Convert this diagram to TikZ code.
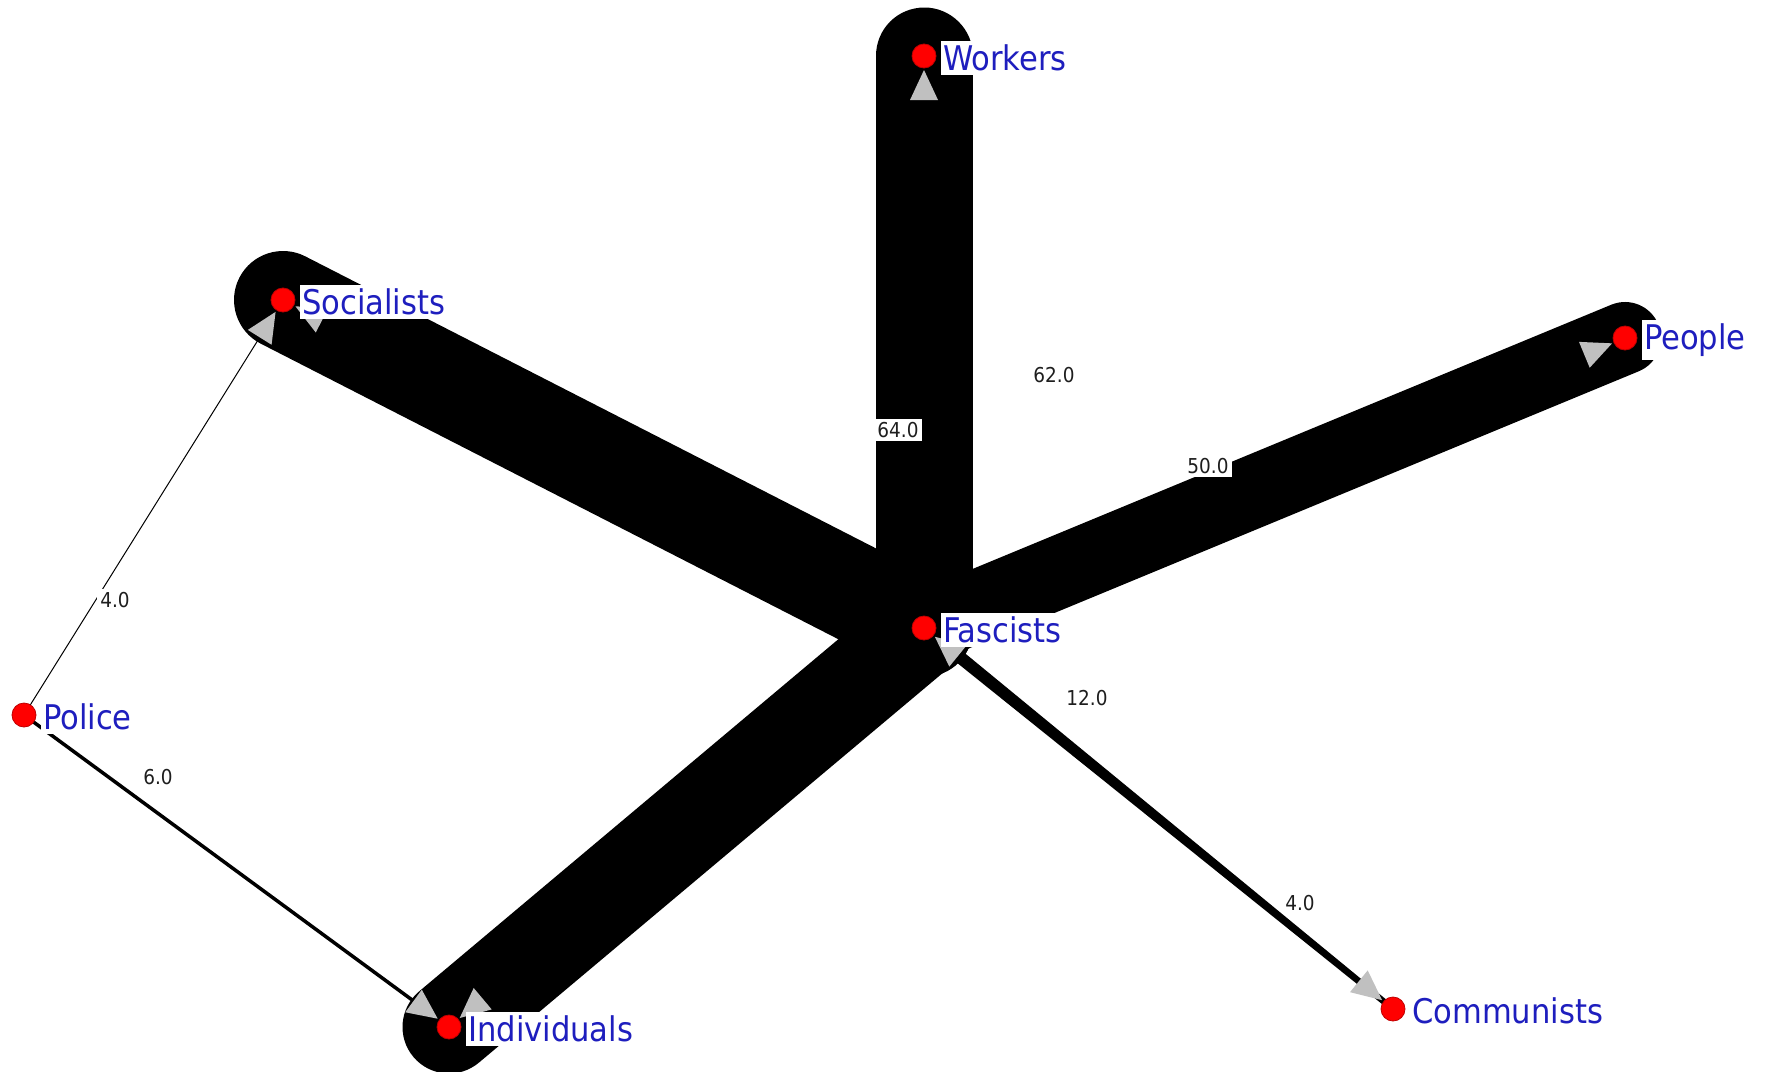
\documentclass[tikz,border=0pt]{standalone}
\usepackage{fontspec}
\setmainfont{DejaVu Sans Condensed}
\usetikzlibrary{calc}
\definecolor{nodeblue}{RGB}{30,30,190}
\definecolor{arrowgray}{RGB}{192,192,192}
\definecolor{numgray}{RGB}{30,30,30}
\pgfdeclarelayer{edges}
\pgfdeclarelayer{heads}
\pgfsetlayers{edges,heads,main}
\newcommand\nmfont{\fontsize{34}{37}\selectfont}
\newcommand\nbfont{\fontsize{20.5}{22}\selectfont}
\newcommand\grayhead[2]{%
  \coordinate (gtip) at ($(#2.center)!14pt!(#1.center)$);
  \coordinate (gbase) at ($(#2.center)!44pt!(#1.center)$);
  \fill[arrowgray] (gtip) -- ($(gbase)!14pt!90:(gtip)$) -- ($(gbase)!14pt!-90:(gtip)$) -- cycle;}
\tikzset{
  band/.style={line width=#1pt, line cap=round, draw=black},
  vert/.style={circle, fill=red, draw=red!75!black, line width=0.8pt, minimum size=24pt, inner sep=0pt},
  vname/.style={anchor=west, fill=white, text=nodeblue, inner xsep=2pt, inner ysep=4pt, font=\nmfont, xshift=17pt, yshift=-2pt},
  wlab/.style={font=\nbfont, fill=white, inner xsep=3pt, inner ysep=3pt, text=numgray},
}
\begin{document}
\begin{tikzpicture}[x=1pt,y=-1pt]
\useasboundingbox (0,0) rectangle (1766,1071);
\node[vert] (W) at (924,56) {};
\node[vert] (S) at (283,300) {};
\node[vert] (Pe) at (1625,338) {};
\node[vert] (F) at (924,628) {};
\node[vert] (Po) at (24,715) {};
\node[vert] (I) at (449,1027) {};
\node[vert] (C) at (1393,1009) {};
\begin{pgfonlayer}{edges}
\fill[white] (0,0) rectangle (1766,1071);
\draw[line width=1pt] (Po.center) -- (S.center);
\draw[line width=3.5pt] (Po.center) -- (I.center);
\draw[band=98] (F.center) -- (S.center);
\draw[band=93] (F.center) -- (I.center);
\draw[band=97] (F.center) -- (W.center);
\draw[band=72] (F.center) -- (Pe.center);
\fill[black] ($(F.center)!6.5pt!90:(C.center)$) -- ($(F.center)!6.5pt!-90:(C.center)$) -- ($(C.center)!3pt!90:(F.center)$) -- ($(C.center)!3pt!-90:(F.center)$) -- cycle;
\end{pgfonlayer}
\begin{pgfonlayer}{heads}
\grayhead{F}{W}
\grayhead{F}{S}
\grayhead{Po}{S}
\grayhead{F}{Pe}
\grayhead{C}{F}
\grayhead{F}{I}
\grayhead{Po}{I}
\grayhead{F}{C}
\end{pgfonlayer}
\node[vname] (Wl) at (W.center) {Workers};
\node[vname] (Sl) at (S.center) {Socialists};
\node[vname] (Pel) at (Pe.center) {People};
\node[vname] (Fl) at (F.center) {Fascists};
\node[vname] (Pol) at (Po.center) {Police};
\node[vname] (Il) at (I.center) {Individuals};
\node[vname] (Cl) at (C.center) {Communists};
\node[wlab] (l64) at (898,430) {64.0};
\node[wlab] (l62) at (1054,375) {62.0};
\node[wlab] (l50) at (1208,466) {50.0};
\node[wlab] (l4a) at (115,600) {4.0};
\node[wlab] (l6) at (158,777) {6.0};
\node[wlab] (l12) at (1087,698) {12.0};
\node[wlab] (l4b) at (1300,903) {4.0};
\end{tikzpicture}
\end{document}
